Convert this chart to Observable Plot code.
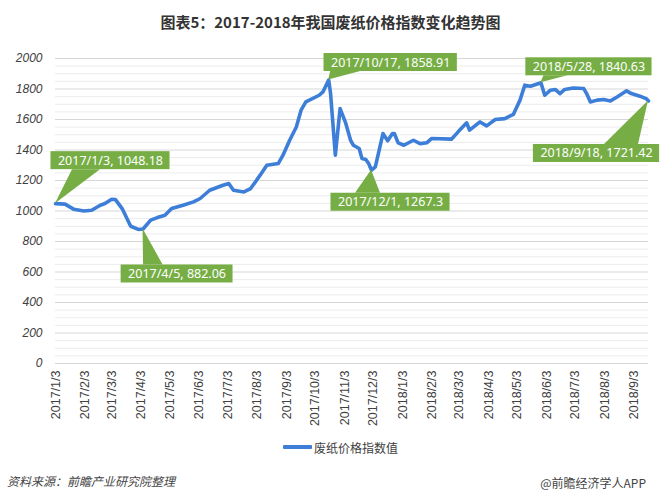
<!DOCTYPE html>
<html><head><meta charset="utf-8">
<script src="https://cdn.jsdelivr.net/npm/d3@7"></script>
<script src="https://cdn.jsdelivr.net/npm/@observablehq/plot@0.6"></script>
<style>
body{margin:0;background:#fff;}
#fig{position:relative;width:661px;height:499px;overflow:hidden;background:#fff;font-family:"Noto Sans CJK SC","Noto Sans",sans-serif;}
#title{position:absolute;left:0;width:661px;top:12px;text-align:center;font-size:15px;font-weight:bold;line-height:20px;color:#333;}
#chart{position:absolute;left:0;top:40px;}
#legend{position:absolute;left:283px;top:438px;height:18px;display:flex;align-items:center;font-size:12px;color:#404040;}
#legend .sw{display:inline-block;width:29px;height:4px;background:#3d7ed8;margin-right:2px;border-radius:1px;}
#src{position:absolute;left:7px;top:472px;font-size:12px;font-style:italic;color:#444;}
#brand{position:absolute;right:15px;top:474px;font-size:12px;color:#444;}
</style></head><body>
<div id="fig">
<div id="title">图表5：2017-2018年我国废纸价格指数变化趋势图</div>
<div id="chart"></div>
<div id="legend"><span class="sw"></span><span>废纸价格指数值</span></div>
<div id="src">资料来源：前瞻产业研究院整理</div>
<div id="brand">@前瞻经济学人APP</div>
</div>
<script>
// Series: 废纸价格指数值
const dates = [
"2017-01-03","2017-01-13","2017-01-22","2017-02-02","2017-02-10","2017-02-19","2017-02-24","2017-03-03","2017-03-07","2017-03-14",
"2017-03-23","2017-03-31","2017-04-05","2017-04-13","2017-04-20","2017-04-28","2017-05-05","2017-05-17","2017-05-28","2017-06-04",
"2017-06-14","2017-06-28","2017-07-04","2017-07-09","2017-07-20","2017-07-27","2017-08-06","2017-08-13","2017-08-25","2017-08-30",
"2017-09-06","2017-09-13","2017-09-18","2017-09-23","2017-10-07","2017-10-11","2017-10-17","2017-10-19","2017-10-24","2017-10-29",
"2017-11-04","2017-11-09","2017-11-12","2017-11-18","2017-11-21","2017-11-25","2017-11-28","2017-12-01","2017-12-05","2017-12-09",
"2017-12-13","2017-12-18","2017-12-23","2017-12-25","2017-12-29","2018-01-04","2018-01-14","2018-01-21","2018-01-28","2018-02-02",
"2018-02-23","2018-03-02","2018-03-11","2018-03-14","2018-03-25","2018-04-01","2018-04-10","2018-04-20","2018-04-29","2018-05-06",
"2018-05-11","2018-05-17","2018-05-28","2018-06-01","2018-06-07","2018-06-12","2018-06-17","2018-06-22","2018-07-01","2018-07-12",
"2018-07-15","2018-07-19","2018-07-26","2018-08-02","2018-08-09","2018-08-16","2018-08-26","2018-08-31","2018-09-09","2018-09-16",
"2018-09-18"];
const values = [
1048.18,1045,1012,1000,1005,1038,1049,1077,1075,1016,
900,879,882.06,940,957,972,1016,1038,1060,1082,
1136,1169,1180,1136,1125,1147,1235,1300,1311,1366,
1464,1551,1661,1715,1759,1781,1858.91,1770,1366,1672,
1574,1464,1431,1410,1344,1338,1311,1267.3,1289,1398,
1508,1460,1508,1508,1447,1431,1464,1442,1447,1475,
1471,1519,1578,1530,1584,1558,1600,1606,1633,1727,
1825,1818,1840.63,1759,1792,1797,1770,1797,1807,1803,
1770,1715,1727,1731,1722,1748,1788,1770,1753,1735,
1721.42];

const xTickDates = ["2017-01-03","2017-02-03","2017-03-03","2017-04-03","2017-05-03","2017-06-03","2017-07-03",
"2017-08-03","2017-09-03","2017-10-03","2017-11-03","2017-12-03","2018-01-03","2018-02-03","2018-03-03",
"2018-04-03","2018-05-03","2018-06-03","2018-07-03","2018-08-03","2018-09-03"];
const yTicks = [0,200,400,600,800,1000,1200,1400,1600,1800,2000];
const yMinorTicks = [50,100,150,250,300,350,450,500,550,650,700,750,850,900,950,1050,1100,1150,
1250,1300,1350,1450,1500,1550,1650,1700,1750,1850,1900,1950];

// Callouts
const calloutDates = ["2017-01-03","2017-04-05","2017-10-17","2017-12-01","2018-05-28","2018-09-18"];
const calloutValues = [1048.18,882.06,1858.91,1267.3,1840.63,1721.42];
const calloutLabels = ["2017/1/3, 1048.18","2017/4/5, 882.06","2017/10/17, 1858.91","2017/12/1, 1267.3","2018/5/28, 1840.63","2018/9/18, 1721.42"];
// layout of callout boxes relative to their point (pixels): label centre offset, pointer base span
const calloutLayout = [
  {dx:55, dy:-43, b1:17, b2:45},
  {dx:34, dy:45, b1:0.5, b2:20},
  {dx:62, dy:-17.5, b1:2, b2:32},
  {dx:19, dy:32, b1:-16, b2:9},
  {dx:48, dy:-16, b1:3, b2:27},
  {dx:-52, dy:52.5, b1:-44, b2:-10}
];

const parse = d3.utcParse("%Y-%m-%d");
const data = dates.map((d, i) => ({date: parse(d), value: values[i]}));
const callouts = calloutDates.map((d, i) => ({date: parse(d), value: calloutValues[i], label: calloutLabels[i], ...calloutLayout[i]}));

const chart = Plot.plot({
  width: 661, height: 395,
  marginTop: 18, marginBottom: 72, marginLeft: 55, marginRight: 13,
  style: {fontFamily: "'Liberation Sans', Arial, sans-serif", fontSize: "12px", color: "#404040", background: "transparent", overflow: "visible"},
  x: {type: "utc", domain: [parse("2017-01-03"), parse("2018-09-18")], ticks: xTickDates.map(parse),
      tickFormat: d => `${d.getUTCFullYear()}/${d.getUTCMonth() + 1}/${d.getUTCDate()}`,
      tickRotate: -90, tickSize: 0, tickPadding: 7, label: null},
  y: {domain: [0, 2000], ticks: yTicks, tickFormat: d => String(d), tickSize: 0, tickPadding: 13, label: null},
  marks: [
    Plot.ruleY(yMinorTicks, {stroke: "#ececec", strokeWidth: 1}),
    Plot.ruleY(yTicks, {stroke: "#d6d6d6", strokeWidth: 1}),
    Plot.line(data, {x: "date", y: "value", stroke: "#3d7ed8", strokeWidth: 3.6, strokeLinejoin: "round", strokeLinecap: "round"}),
    ...callouts.map(c => Plot.text([c], {x: "date", y: "value", text: "label", dx: c.dx, dy: c.dy,
      fill: "white", fontSize: 12.5, fontFamily: "'Noto Sans', sans-serif", className: "callout"}))
  ]
});
document.getElementById("chart").appendChild(chart);

// style axes
d3.select(chart).selectAll('g[aria-label^="y-axis"] text').style("font-style", "italic").attr("fill", "#404040");
d3.select(chart).selectAll('g[aria-label^="x-axis"]').attr("font-size", 12.5);

// callout boxes & pointers drawn behind labels, positioned through the plot's scales
const sx = chart.scale("x"), sy = chart.scale("y");
const nodes = Array.from(new Set(chart.querySelectorAll(".callout text")));
const firstGroup = nodes.length ? nodes[0].closest("g") : null;
const bgLayer = d3.create("svg:g").attr("class", "callout-bg");
if (firstGroup) firstGroup.parentNode.insertBefore(bgLayer.node(), firstGroup);
nodes.forEach((node, i) => {
  const c = callouts[i];
  const bb = node.getBBox();
  const padX = 7, h = 18;
  const px = sx.apply(c.date), py = sy.apply(c.value);
  const cx = px + c.dx, cy = py + c.dy;
  const w = bb.width + 2 * padX;
  const x0 = cx - w / 2, y0 = cy - h / 2, y1 = cy + h / 2;
  const edge = c.dy > 0 ? y0 : y1;
  bgLayer.append("polygon").attr("points", `${px},${py} ${px + c.b1},${edge} ${px + c.b2},${edge}`).attr("fill", "#76ae45");
  bgLayer.append("rect").attr("x", x0).attr("y", y0).attr("width", w).attr("height", h).attr("fill", "#76ae45");
});
</script>
</body></html>
